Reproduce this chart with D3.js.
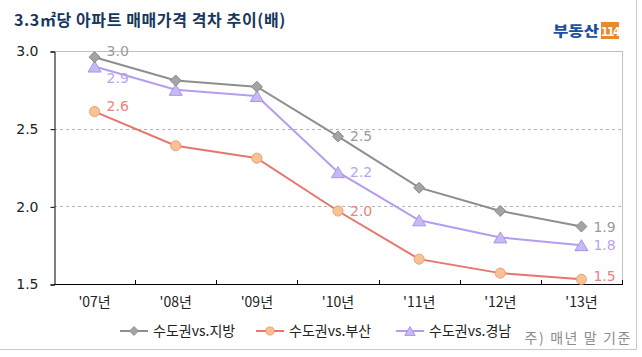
<!DOCTYPE html>
<html><head><meta charset="utf-8">
<script src="https://cdn.jsdelivr.net/npm/d3@7"></script>
<style>
html,body{margin:0;padding:0;background:#fff;}
svg{display:block;font-family:"DejaVu Sans","Noto Sans CJK KR",sans-serif;}
</style></head>
<body>
<svg id="c" width="642" height="357"></svg>
<script>
const title = "3.3㎡당 아파트 매매가격 격차 추이(배)";
const categories = ["'07년","'08년","'09년","'10년","'11년","'12년","'13년"];
const seriesNames = ["수도권vs.지방","수도권vs.부산","수도권vs.경남"];
const jibang = [2.96, 2.81, 2.77, 2.45, 2.12, 1.97, 1.87];
const busan  = [2.61, 2.39, 2.31, 1.97, 1.66, 1.57, 1.53];
const gyeongnam = [2.90, 2.75, 2.71, 2.22, 1.91, 1.80, 1.75];
const jibangLabels = ["3.0", null, null, "2.5", null, null, "1.9"];
const busanLabels  = ["2.6", null, null, "2.0", null, null, "1.5"];
const gyeongnamLabels = ["2.9", null, null, "2.2", null, null, "1.8"];
const yTicks = [1.5, 2.0, 2.5, 3.0];
const yTickLabels = ["1.5","2.0","2.5","3.0"];
const note = "주) 매년 말 기준";

const svg = d3.select("#c");
const L = 54, R = 622, T = 51, B = 284;
const x = d3.scaleBand().domain(categories).range([L, R]).padding(0);
const y = d3.scaleLinear().domain([1.5, 3.0]).range([B, T]);
const cx = d => x(d) + x.bandwidth()/2;

// outer frame
svg.append("line").attr("x1",636.5).attr("x2",636.5).attr("y1",0).attr("y2",349.5).attr("stroke","#c8c8c8");
svg.append("line").attr("x1",0).attr("x2",636.5).attr("y1",349.5).attr("y2",349.5).attr("stroke","#c8c8c8");

// title
svg.append("text").attr("x",14).attr("y",26).attr("font-size",16).attr("font-weight","bold").attr("letter-spacing",0.6)
  .attr("fill","#17375e").attr("font-family","'Noto Sans CJK KR',sans-serif").text(title);

// logo
const logo = svg.append("g");
logo.append("text").attr("x",553).attr("y",36).attr("font-size",14).attr("font-weight","900")
  .attr("textLength",46).attr("lengthAdjust","spacingAndGlyphs")
  .attr("fill","#1f4f9e").attr("font-family","'Noto Sans CJK KR',sans-serif").text("부동산");
logo.append("rect").attr("x",601).attr("y",22).attr("width",18).attr("height",17).attr("fill","#e8892e");
logo.append("text").attr("x",610).attr("y",35.5).attr("text-anchor","middle").attr("font-size",12).attr("font-weight","bold")
  .attr("fill","#fff").attr("letter-spacing",-1.5).attr("font-family","'Liberation Sans Narrow','DejaVu Sans Condensed',sans-serif").text("114");

// grid
svg.append("g").selectAll("line").data([2.0, 2.5]).join("line")
  .attr("x1",L).attr("x2",R).attr("y1",d=>Math.round(y(d))+0.5).attr("y2",d=>Math.round(y(d))+0.5)
  .attr("stroke","#b4b4b4").attr("stroke-dasharray","3,3");
// top & right border
svg.append("line").attr("x1",L).attr("x2",R+0.5).attr("y1",T+0.5).attr("y2",T+0.5).attr("stroke","#c0c0c0");
svg.append("line").attr("x1",R+0.5).attr("x2",R+0.5).attr("y1",T).attr("y2",B).attr("stroke","#c0c0c0");

// y axis
const yAxis = svg.append("g").attr("transform",`translate(${L+0.5},0.5)`)
  .call(d3.axisLeft(y).tickValues(yTicks).tickFormat((d,i)=>yTickLabels[i]).tickSize(4).tickPadding(12));
yAxis.select(".domain").attr("stroke","#000");
yAxis.selectAll("text").attr("font-size",14).attr("fill","#222").attr("font-family","'DejaVu Sans',sans-serif");

// x axis
const xAxis = svg.append("g").attr("transform",`translate(0,${B+0.5})`)
  .call(d3.axisBottom(x).tickSize(0).tickPadding(11));
xAxis.select(".domain").attr("stroke","#000").attr("d",`M${L},0H${R+1}`);
xAxis.selectAll("text").attr("font-size",14).attr("fill","#222").attr("dy","0.85em")
  .attr("font-family","'Noto Sans CJK KR',sans-serif");
// boundary ticks pointing up
const bounds = categories.map(c => x(c)).concat([R]);
svg.append("g").selectAll("line").data(bounds.slice(1)).join("line")
  .attr("x1",d=>Math.round(d)+0.5).attr("x2",d=>Math.round(d)+0.5).attr("y1",B).attr("y2",B-4).attr("stroke","#000");

const series = [
  {name: seriesNames[0], vals: jibang, labels: jibangLabels, line:"#8e8e8e", fill:"#a4a4a4", stroke:"#8a8a8a", lab:"#9a9a9a", shape:"diamond", pos:["up","right","right"]},
  {name: seriesNames[1], vals: busan, labels: busanLabels, line:"#e8746c", fill:"#f8c394", stroke:"#eda07a", lab:"#e8847c", shape:"circle", pos:["up","right","upright"]},
  {name: seriesNames[2], vals: gyeongnam, labels: gyeongnamLabels, line:"#b49cee", fill:"#c8b9f6", stroke:"#a894ea", lab:"#b8a3ec", shape:"triangle", pos:["down","right","right"]}
];

function markerPath(shape, scale){
  if(shape==="diamond"){ const r=5.5*scale; return `M0,${-r}L${r},0L0,${r}L${-r},0Z`; }
  if(shape==="circle"){ return d3.symbol(d3.symbolCircle, 80*scale*scale)(); }
  const w=6.5*scale, h=5.5*scale; return `M0,${-h}L${w},${h}L${-w},${h}Z`;
}

const lineGen = d3.line().x((d,i)=>cx(categories[i])).y(d=>y(d));
[1,2,0].forEach(k=>{
  const s = series[k];
  const g = svg.append("g");
  g.append("path").attr("d", lineGen(s.vals)).attr("fill","none").attr("stroke",s.line).attr("stroke-width",2);
  g.selectAll("path.m").data(s.vals).join("path").attr("class","m")
    .attr("transform",(d,i)=>`translate(${cx(categories[i])},${y(d)})`)
    .attr("d", markerPath(s.shape,1)).attr("fill",s.fill).attr("stroke",s.stroke).attr("stroke-width",1);
});
// labels
series.forEach(s=>{
  let li = 0;
  s.labels.forEach((t,i)=>{
    if(!t) return;
    const p = s.pos[li++];
    let dx = 12, dy = 0;
    if(p==="up") dy = -6;
    if(p==="down") dy = 11;
    if(p==="upright") dy = -3;
    svg.append("text").attr("x",cx(categories[i])+dx).attr("y",y(s.vals[i])+dy)
      .attr("dy","0.36em").attr("font-size",14).attr("fill",s.lab).text(t);
  });
});

// legend
const legendX = [120, 256, 396];
const lg = svg.append("g");
series.forEach((s,i)=>{
  const x0 = legendX[i], yy = 331;
  lg.append("line").attr("x1",x0).attr("x2",x0+28).attr("y1",yy).attr("y2",yy).attr("stroke",s.line).attr("stroke-width",2);
  lg.append("path").attr("transform",`translate(${x0+14},${yy})`)
    .attr("d", markerPath(s.shape,0.8)).attr("fill",s.fill).attr("stroke",s.stroke);
  lg.append("text").attr("x",x0+33).attr("y",yy).attr("dy","0.36em").attr("font-size",14).attr("fill","#222")
    .attr("font-family","'Noto Sans CJK KR',sans-serif").text(s.name);
});
svg.append("text").attr("x",632).attr("y",338).attr("dy","0.36em").attr("text-anchor","end")
  .attr("font-size",14).attr("fill","#8c8c8c").attr("font-family","'Noto Sans CJK KR',sans-serif").attr("letter-spacing",1.6).text(note);
</script>
</body></html>
